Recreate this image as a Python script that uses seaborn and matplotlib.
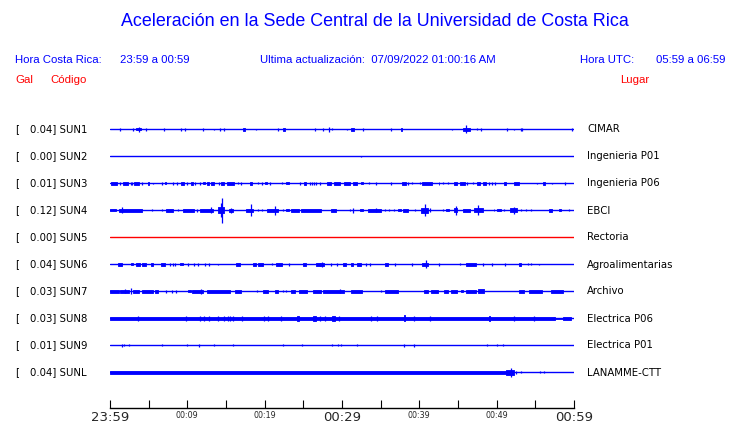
import matplotlib
matplotlib.use("Agg")
import matplotlib.pyplot as plt
import matplotlib.transforms as mtransforms
import pandas as pd
import seaborn as sns

# stations, places and peak acceleration (Gal)
stations = ["SUN1", "SUN2", "SUN3", "SUN4", "SUN5", "SUN6", "SUN7", "SUN8", "SUN9", "SUNL"]
places = ["CIMAR", "Ingenieria P01", "Ingenieria P06", "EBCI", "Rectoria",
          "Agroalimentarias", "Archivo", "Electrica P06", "Electrica P01", "LANAMME-CTT"]
peak_gal = ["0.04", "0.00", "0.01", "0.12", "0.00", "0.04", "0.03", "0.03", "0.01", "0.04"]
trace_colors = ["#0000ff"] * 4 + ["#ff0000"] + ["#0000ff"] * 5

# x axis: minutes after 23:59
tick_minutes = list(range(0, 61, 5))
tick_labels = ["23:59", "", "00:09", "", "00:19", "", "00:29", "", "00:39", "", "00:49", "", "00:59"]
big_labels = ["23:59", "00:29", "00:59"]

# events: (start minute, end minute, half amplitude)
sun1 = [(1.3, 1.3, 1.3), (3.0, 3.0, 1.3), (3.4, 4.0, 1.0), (3.7, 3.7, 2.3), (4.7, 4.7, 1.3),
        (7.0, 7.0, 1.3), (9.2, 9.2, 1.3), (9.7, 9.7, 1.3), (12.0, 12.0, 1.3), (13.5, 13.5, 0.8),
        (14.2, 14.2, 1.3), (14.8, 14.8, 1.3), (17.2, 17.4, 1.2), (18.9, 18.9, 0.8), (21.7, 21.7, 1.3),
        (22.4, 22.6, 1.2), (26.5, 26.5, 1.3), (27.5, 27.5, 1.3), (28.3, 28.3, 2.7), (28.7, 28.7, 1.0),
        (30.6, 30.6, 0.8), (31.1, 31.6, 1.2), (32.7, 32.7, 1.3), (36.4, 36.4, 1.3), (37.6, 37.7, 1.5),
        (44.2, 44.2, 0.8), (45.6, 46.5, 1.2), (46.0, 46.0, 4.0), (47.4, 47.4, 1.0), (48.0, 48.0, 1.3),
        (51.4, 51.4, 1.3), (52.3, 52.3, 0.8), (53.2, 53.2, 1.3), (53.3, 53.3, 1.3), (59.7, 59.7, 1.3)]
sun2 = [(32.4, 32.4, 0.8)]
sun3 = [(0.1, 0.9, 1.2), (1.3, 1.3, 1.2), (1.7, 2.3, 1.2), (2.7, 2.7, 1.2), (2.9, 2.9, 1.2),
        (3.1, 3.7, 1.1), (4.2, 4.2, 1.2), (4.9, 5.0, 1.2), (5.6, 5.6, 0.8), (6.7, 6.7, 1.2),
        (7.1, 7.3, 1.0), (8.2, 8.2, 1.2), (8.6, 8.6, 1.2), (9.2, 9.6, 1.2), (10.0, 10.0, 1.2),
        (10.5, 10.7, 1.2), (11.0, 11.0, 1.2), (11.7, 11.7, 1.2), (12.0, 12.3, 1.0), (12.5, 12.8, 1.2),
        (13.1, 13.5, 1.2), (14.1, 14.1, 1.2), (14.4, 14.8, 1.2), (15.1, 16.0, 1.2), (16.6, 16.6, 1.0),
        (17.0, 17.0, 1.2), (18.1, 18.3, 1.2), (19.1, 19.1, 1.0), (19.7, 19.7, 1.2), (20.0, 20.3, 1.0),
        (20.7, 20.7, 1.2), (22.2, 22.2, 1.0), (22.8, 23.2, 1.0), (24.6, 24.6, 1.2), (25.1, 25.4, 1.2),
        (25.8, 25.8, 1.2), (26.1, 26.1, 1.2), (26.4, 26.4, 1.2), (26.7, 26.7, 1.2), (27.1, 27.1, 1.2),
        (28.0, 28.6, 1.2), (29.0, 29.7, 1.2), (30.3, 31.0, 1.2), (31.4, 32.0, 1.2), (32.4, 32.7, 1.0),
        (33.5, 33.5, 1.0), (34.4, 34.4, 1.2), (36.3, 36.3, 1.2), (37.8, 38.3, 1.3), (38.5, 38.5, 1.2),
        (39.0, 39.0, 1.0), (40.1, 40.1, 1.0), (40.4, 41.7, 1.3), (42.5, 42.6, 1.2), (43.1, 43.1, 1.0),
        (43.7, 43.7, 1.0), (44.5, 44.9, 1.2), (45.2, 45.9, 1.2), (46.2, 46.2, 1.2), (47.0, 47.0, 1.0),
        (47.4, 47.9, 1.2), (48.2, 48.6, 1.2), (49.0, 49.0, 1.2), (49.4, 49.4, 1.2), (49.8, 49.8, 1.2),
        (51.0, 51.2, 1.2), (52.2, 52.9, 1.2), (55.2, 55.2, 0.8), (56.0, 56.2, 1.2), (57.1, 57.1, 0.8),
        (58.9, 58.9, 1.2)]
sun4 = [(0.0, 0.8, 1.0), (1.2, 4.1, 1.3), (1.6, 1.6, 3.0), (5.4, 5.4, 1.0), (6.7, 6.7, 1.0),
        (7.3, 8.2, 1.2), (8.8, 8.8, 1.0), (9.5, 10.8, 1.5), (11.2, 11.2, 1.2), (11.6, 13.3, 1.5),
        (13.1, 13.1, 3.0), (14.0, 14.8, 3.0), (14.3, 14.3, 7.0), (14.5, 14.5, 12.5), (15.4, 15.9, 1.7),
        (15.6, 15.6, 2.5), (17.6, 18.5, 1.5), (18.2, 18.2, 6.0), (19.1, 19.1, 1.0), (19.6, 19.6, 1.0),
        (20.3, 21.7, 1.5), (21.4, 21.4, 4.5), (22.4, 22.4, 1.0), (22.8, 23.2, 1.0), (23.4, 24.5, 1.2),
        (24.7, 27.3, 1.2), (28.6, 29.2, 1.2), (31.0, 31.0, 1.0), (31.4, 31.4, 2.5), (32.3, 32.7, 1.0),
        (33.3, 35.1, 1.5), (34.4, 34.4, 2.0), (35.6, 35.6, 1.0), (36.1, 36.1, 1.0), (36.7, 36.7, 1.0),
        (37.2, 37.6, 1.0), (37.9, 38.5, 1.2), (39.4, 39.4, 1.0), (40.2, 41.1, 2.5), (40.7, 40.7, 6.0),
        (41.4, 41.4, 2.0), (43.0, 43.0, 1.0), (43.4, 43.9, 1.0), (44.5, 44.9, 2.0), (44.8, 44.8, 4.5),
        (45.6, 46.5, 1.3), (47.1, 48.2, 2.0), (47.6, 47.6, 5.0), (49.6, 49.7, 1.0), (50.1, 50.5, 1.0),
        (51.0, 51.0, 1.0), (51.7, 52.6, 2.0), (52.2, 52.2, 3.5), (53.1, 53.1, 1.0), (53.8, 53.8, 1.0),
        (54.5, 54.5, 1.0), (56.8, 57.2, 1.2), (58.1, 58.3, 1.0), (59.4, 59.4, 1.0)]
sun5 = []
sun6 = [(1.0, 1.5, 1.2), (2.7, 3.0, 1.0), (3.4, 3.9, 1.2), (4.1, 4.7, 1.2), (5.3, 5.6, 1.2),
        (6.6, 7.1, 1.2), (7.7, 7.7, 1.2), (8.2, 8.2, 1.2), (8.4, 8.4, 1.2), (9.0, 9.5, 1.0),
        (10.1, 10.1, 1.2), (10.8, 10.8, 1.2), (11.4, 11.4, 1.2), (12.3, 12.3, 1.2), (12.8, 12.8, 1.2),
        (14.0, 14.0, 0.8), (16.3, 16.8, 1.2), (18.5, 18.9, 1.2), (19.2, 19.8, 1.2), (20.9, 20.9, 1.0),
        (21.5, 22.2, 1.2), (23.1, 23.1, 1.2), (25.0, 25.4, 1.2), (26.6, 27.1, 1.2), (27.2, 27.7, 1.7),
        (27.4, 27.4, 2.5), (28.6, 28.6, 1.2), (29.3, 29.3, 1.2), (30.1, 30.5, 1.2), (31.1, 31.4, 1.2),
        (32.0, 32.5, 1.2), (33.1, 33.1, 1.2), (33.6, 33.6, 1.2), (35.5, 35.9, 1.2), (36.8, 36.8, 1.2),
        (39.0, 39.0, 1.2), (40.4, 41.1, 1.7), (40.8, 40.8, 4.0), (42.6, 42.6, 1.2), (45.3, 45.3, 1.0),
        (46.0, 47.3, 1.5), (48.2, 48.2, 1.2), (49.4, 49.4, 1.2), (51.1, 51.1, 1.2), (52.9, 53.2, 1.2),
        (54.0, 54.0, 1.0), (54.5, 54.5, 1.0), (55.5, 55.5, 0.8)]
sun7 = [(0.0, 1.1, 1.2), (1.3, 2.4, 1.7), (1.9, 1.9, 2.0), (2.7, 2.7, 3.0), (3.0, 3.7, 1.2),
        (4.1, 5.6, 1.2), (5.8, 6.2, 1.2), (7.3, 7.3, 1.2), (8.0, 8.0, 1.2), (8.5, 8.5, 1.2),
        (10.1, 10.5, 1.0), (10.6, 12.0, 1.5), (11.8, 11.8, 2.5), (12.5, 15.5, 1.2), (16.1, 17.0, 1.2),
        (19.0, 19.0, 1.0), (19.8, 20.4, 1.7), (21.4, 21.7, 1.7), (22.4, 22.4, 1.0), (22.8, 22.8, 1.0),
        (23.4, 23.9, 1.2), (24.4, 25.5, 1.3), (26.2, 27.3, 1.3), (27.5, 30.3, 1.3), (29.8, 29.8, 2.0),
        (31.2, 32.6, 1.2), (35.0, 35.0, 1.0), (35.5, 37.2, 1.3), (40.6, 41.1, 1.2), (41.5, 42.4, 1.2),
        (43.2, 43.7, 1.7), (44.1, 44.9, 1.2), (45.4, 45.6, 1.0), (46.0, 47.3, 1.7), (47.6, 48.4, 2.0),
        (52.9, 53.5, 1.2), (54.2, 55.9, 1.2), (57.0, 58.6, 1.2)]
sun8 = [(0.0, 57.6, 1.6), (57.6, 58.6, 0.9), (58.6, 59.6, 1.6), (3.6, 3.6, 2.7), (9.8, 9.8, 2.7),
        (11.6, 11.6, 2.2), (12.1, 12.1, 2.2), (12.8, 12.8, 2.2), (14.0, 14.0, 2.2), (14.8, 14.8, 2.2),
        (15.2, 15.2, 2.2), (15.5, 15.5, 2.2), (15.9, 15.9, 2.5), (17.1, 17.1, 2.2), (19.9, 19.9, 2.2),
        (20.4, 20.4, 2.2), (22.1, 22.1, 2.2), (24.2, 24.5, 2.2), (26.2, 26.7, 2.3), (27.2, 27.2, 2.2),
        (27.8, 27.8, 2.2), (28.7, 29.1, 2.5), (29.6, 29.6, 2.3), (33.8, 33.8, 2.2), (34.5, 34.5, 2.2),
        (38.0, 38.2, 3.0), (39.3, 39.3, 2.2), (41.4, 41.4, 2.3), (49.0, 49.2, 2.5), (52.2, 52.2, 2.2),
        (54.8, 54.8, 2.2)]
sun9 = [(1.5, 1.5, 1.3), (1.8, 1.8, 1.0), (2.4, 2.4, 1.0), (6.7, 6.7, 1.0), (9.9, 9.9, 1.0),
        (11.5, 11.5, 1.3), (13.5, 13.5, 1.0), (15.9, 15.9, 1.0), (22.4, 22.4, 1.0), (24.8, 24.8, 1.0),
        (28.7, 28.7, 1.0), (29.5, 29.5, 1.0), (29.9, 29.9, 1.0), (31.9, 31.9, 1.0), (38.0, 38.0, 1.3),
        (39.3, 39.3, 1.3), (48.8, 48.8, 1.0), (50.1, 50.1, 1.0), (50.8, 50.8, 1.0)]
sunl = [(0.0, 51.2, 1.8), (51.2, 52.3, 2.5), (51.9, 51.9, 4.5), (52.5, 52.5, 1.2),
        (53.1, 53.1, 1.0), (55.6, 55.6, 1.0), (56.1, 56.1, 1.0)]
trace_events = [sun1, sun2, sun3, sun4, sun5, sun6, sun7, sun8, sun9, sunl]

W, H = 740, 423
ROW_TOP, ROW_STEP = 129.5, 27  # trace offsets in pixels from the top of the figure


def row_y(i):
    return ROW_TOP + ROW_STEP * i


sns.set_theme(style="white")
plt.rcParams["font.family"] = ["DejaVu Sans"]

fig = plt.figure(figsize=(W / 100, H / 100), dpi=100)
fig.patch.set_facecolor("white")
ax = fig.add_axes([110 / W, (H - 408) / H, 464 / W, (408 - 115) / H])

# baselines through seaborn
base = pd.DataFrame({
    "minute": [0, 60] * len(stations),
    "row": [row_y(i) for i in range(len(stations)) for _ in range(2)],
    "station": [s for s in stations for _ in range(2)],
})
sns.lineplot(data=base, x="minute", y="row", hue="station", hue_order=stations,
             palette=trace_colors, linewidth=1.0, legend=False, ax=ax)

for i, events in enumerate(trace_events):
    col = trace_colors[i]
    y0 = row_y(i)
    sx, lo, hi = [], [], []
    for s, e, a in events:
        if e <= s:
            sx.append(s)
            lo.append(y0 - a)
            hi.append(y0 + a)
        else:
            ax.fill_between([s, e], y0 - a, y0 + a, color=col, linewidth=0.6)
    if sx:
        ax.vlines(sx, lo, hi, color=col, linewidth=0.9)

ax.set_xlim(0, 60)
ax.set_ylim(408, 115)
ax.set_xlabel("")
ax.set_ylabel("")
ax.set_yticks([])
for side in ["top", "left", "right"]:
    ax.spines[side].set_visible(False)
ax.spines["bottom"].set_color("black")
ax.spines["bottom"].set_linewidth(1.0)
ax.set_facecolor("white")

ax.set_xticks(tick_minutes)
ax.set_xticklabels(tick_labels)
ax.tick_params(axis="x", direction="in", length=6, width=0.8, color="black", pad=2,
               bottom=True)
for lab in ax.get_xticklabels():
    if lab.get_text() in big_labels:
        lab.set_fontsize(9.5)
    else:
        lab.set_fontsize(5.8)

# station labels on both sides
tr = mtransforms.blended_transform_factory(fig.transFigure, ax.transData)
for i in range(len(stations)):
    y0 = row_y(i)
    ax.text(15 / W, y0, "[", transform=tr, ha="left", va="center", fontsize=7.3, color="black")
    ax.text(87 / W, y0, f"{peak_gal[i]}] {stations[i]}", transform=tr, ha="right", va="center",
            fontsize=7.3, color="black")
    ax.text(587 / W, y0, places[i], transform=tr, ha="left", va="center", fontsize=7.3,
            color="black")

# header
hf = ["Liberation Sans", "DejaVu Sans"]
blue = "#0000ff"
red = "#ff0000"
fig.text(375 / W, 1 - 22 / H, "Aceleración en la Sede Central de la Universidad de Costa Rica",
         ha="center", va="center", fontsize=12.9, color=blue, family=hf)
fig.text(15 / W, 1 - 60 / H, "Hora Costa Rica:", ha="left", va="center", fontsize=8.2,
         color=blue, family=hf)
fig.text(120 / W, 1 - 60 / H, "23:59 a 00:59", ha="left", va="center", fontsize=8.2,
         color=blue, family=hf)
fig.text(260 / W, 1 - 60 / H, "Ultima actualización:  07/09/2022 01:00:16 AM", ha="left",
         va="center", fontsize=8.2, color=blue, family=hf)
fig.text(580 / W, 1 - 60 / H, "Hora UTC:", ha="left", va="center", fontsize=8.2,
         color=blue, family=hf)
fig.text(725 / W, 1 - 60 / H, "05:59 a 06:59", ha="right", va="center", fontsize=8.2,
         color=blue, family=hf)
fig.text(15 / W, 1 - 80 / H, "Gal", ha="left", va="center", fontsize=8.2, color=red, family=hf)
fig.text(50 / W, 1 - 80 / H, "Código", ha="left", va="center", fontsize=8.2, color=red, family=hf)
fig.text(649 / W, 1 - 80 / H, "Lugar", ha="right", va="center", fontsize=8.2, color=red,
         family=hf)

fig.savefig("out.png", dpi=100, facecolor="white")
